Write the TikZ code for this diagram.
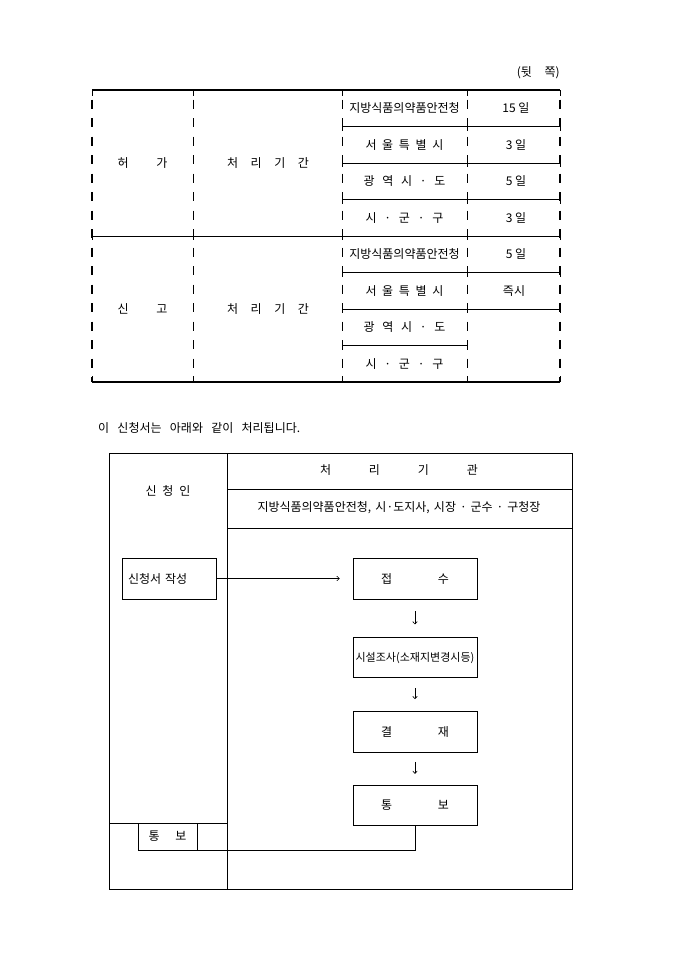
\documentclass[tikz,border=0pt]{standalone}
\usepackage{fontspec}
\setmainfont{Noto Sans CJK KR}
\usetikzlibrary{arrows.meta,positioning}
\newcommand{\spr}[2]{\makebox[#1][s]{#2}}

\begin{document}
\begin{tikzpicture}[x=1pt, y=-1pt,
    txt/.style={inner sep=0pt, font=\fontsize{12pt}{14pt}\selectfont},
    flowbox/.style={draw, line width=0.7pt, minimum width=124pt, minimum height=41pt,
                    inner sep=0pt, font=\fontsize{12pt}{14pt}\selectfont},
    rule/.style={line width=0.8pt},
    heavy/.style={line width=1.8pt},
    vdash/.style={line width=0.8pt, dash pattern=on 9pt off 9.5pt, dash phase=9pt},
    frame/.style={line width=0.7pt},
    arr/.style={-{To[length=3pt,width=5pt]}, line width=0.6pt}
  ]
  \useasboundingbox (0,0) rectangle (680,962);

  % period table
  \node[txt, anchor=east] (side) at (560,73) {\spr{43pt}{(뒷 쪽)}};
  \draw[heavy] (92,90) -- (560,90);
  \draw[heavy] (92,382) -- (560,382);
  \draw[vdash, heavy] (92,90) -- (92,382);
  \draw[vdash, heavy] (560,90) -- (560,382);
  \foreach \x in {193,342,467} \draw[vdash] (\x,90) -- (\x,382);
  \draw[rule] (92,236) -- (560,236);
  \foreach \y in {126.5,163,199.5,272.5,309} \draw[rule] (342,\y) -- (560,\y);
  \draw[rule] (342,345.5) -- (467,345.5);
  % junction ticks
  \foreach \y in {126.5,163,199.5,272.5,309}
    \foreach \x in {342,467,560} \draw[rule] (\x,\y-4) -- (\x,\y+4);
  \foreach \x in {342,467} \draw[rule] (\x,341.5) -- (\x,349.5);
  \foreach \x in {92,193,342,467,560} {
    \draw[rule] (\x,232) -- (\x,240);
    \draw[rule] (\x,90) -- (\x,96);
    \draw[rule] (\x,376) -- (\x,382);
  }

  \node[txt] (heo) at (142.5,163) {\spr{50pt}{허 가}};
  \node[txt] (hperiod) at (268,163) {\spr{82pt}{처 리 기 간}};
  \node[txt] (sin) at (142.5,309) {\spr{50pt}{신 고}};
  \node[txt] (speriod) at (268,309) {\spr{82pt}{처 리 기 간}};
  \foreach \lab [count=\i] in {{지방식품의약품안전청},{\spr{78pt}{서 울 특 별 시}},
                               {\spr{82pt}{광 역 시 · 도}},{\spr{78pt}{시 · 군 · 구}}} {
    \node[txt] (hrow\i) at (404.5,71.75+36.5*\i) {\lab};
    \node[txt] (srow\i) at (404.5,217.75+36.5*\i) {\lab};
  }
  \foreach \d [count=\i] in {15 일, 3 일, 5 일, 3 일}
    \node[txt] (hday\i) at (516,71.75+36.5*\i) {\d};
  \node[txt] (sday1) at (516,254.25) {5 일};
  \node[txt] (sday2) at (514,290.75) {즉시};

  % process chart
  \node[txt, anchor=west] (note) at (98,428) {\spr{202pt}{이 신청서는 아래와 같이 처리됩니다.}};
  \draw[frame] (109,453) rectangle (572,889);
  \draw[frame] (227,453) -- (227,889);
  \draw[frame] (227,489) -- (572,489);
  \draw[frame] (227,528) -- (572,528);
  \draw[frame] (109,823) -- (227,823);
  \node[txt] (applicant) at (168,491) {\spr{45pt}{신 청 인}};
  \node[txt] (office) at (399,470) {\spr{158pt}{처 리 기 관}};
  \node[txt] (offices) at (399,508) {\spr{283pt}{지방식품의약품안전청, 시·도지사, 시장 · 군수 · 구청장}};

  \node[flowbox, minimum width=94pt, text width=82pt, inner xsep=6pt, align=left]
    (req) at (169,578.5) {신청서 작성};
  \node[flowbox] (recv) at (415,578.5) {\spr{68pt}{접 수}};
  \node[flowbox, below=38pt of recv, minimum height=40pt,
        font=\fontsize{11pt}{13pt}\selectfont] (survey) {시설조사(소재지변경시등)};
  \node[flowbox, below=33pt of survey] (approve) {\spr{68pt}{결 재}};
  \node[flowbox, below=32pt of approve, minimum height=40pt] (notify) {\spr{68pt}{통 보}};
  \node[txt, draw, frame, minimum width=59pt, minimum height=27pt]
    (reply) at (167.5,836.5) {\spr{38pt}{통 보}};

  \draw[arr, shorten >=13pt] (req) -- (recv);
  \draw[arr, shorten <=12pt, shorten >=13pt] (recv) -- (survey);
  \draw[arr, shorten <=10pt, shorten >=12pt] (survey) -- (approve);
  \draw[arr, shorten <=9pt, shorten >=11pt] (approve) -- (notify);
  \draw[frame] (notify.south) |- (reply.south west);
\end{tikzpicture}
\end{document}
